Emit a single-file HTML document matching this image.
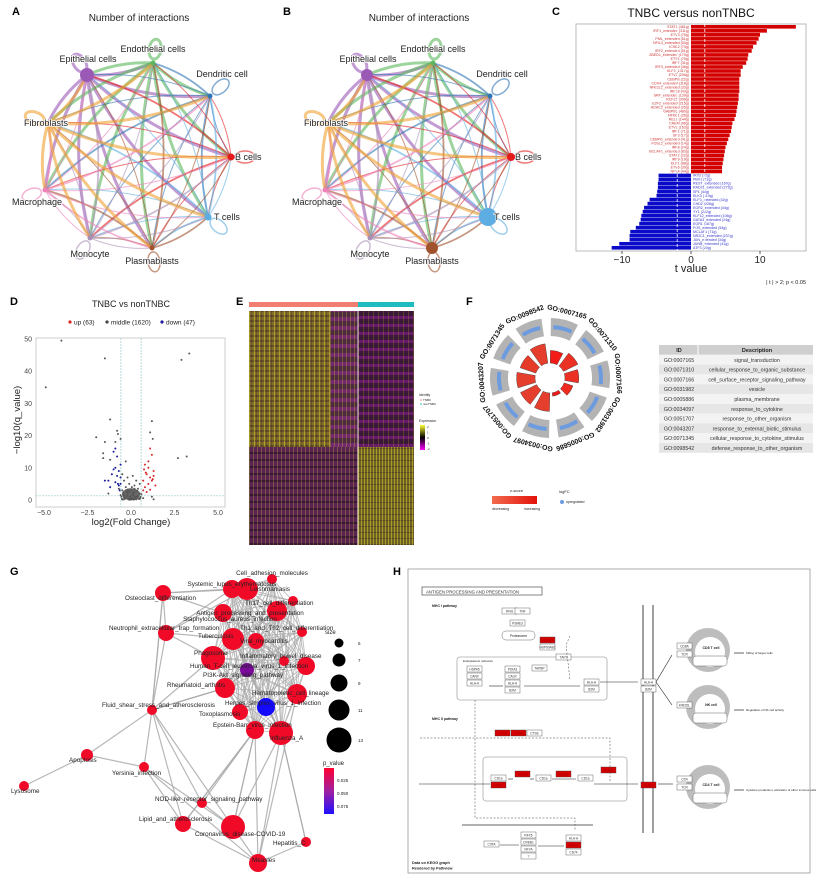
<!DOCTYPE html>
<html><head><meta charset="utf-8">
<style>
html,body{margin:0;padding:0;background:#fff;}
svg{display:block;font-family:"Liberation Sans",Arial,sans-serif;}
.hm{position:absolute;}
</style></head>
<body>
<div style="position:relative;width:824px;height:884px;overflow:hidden">
<div class="hm" style="left:249px;top:311px;width:81px;height:136px;background:repeating-linear-gradient(90deg,rgba(235,215,50,.45) 0 1px,transparent 1px 2px,rgba(60,30,40,.3) 2px 3px,transparent 3px 5px),repeating-linear-gradient(0deg,rgba(50,25,40,.35) 0 2px,transparent 2px 5px),#7f6d28"></div>
<div class="hm" style="left:330px;top:311px;width:28px;height:136px;background:repeating-linear-gradient(90deg,rgba(200,180,40,.35) 0 1px,transparent 1px 4px),repeating-linear-gradient(0deg,rgba(170,40,180,.4) 0 4px,transparent 4px 9px),#4e2a40"></div>
<div class="hm" style="left:358px;top:311px;width:56px;height:136px;background:repeating-linear-gradient(90deg,rgba(200,170,40,.25) 0 1px,transparent 1px 5px),repeating-linear-gradient(0deg,rgba(170,30,180,.4) 0 3px,transparent 3px 8px),#3a1838"></div>
<div class="hm" style="left:249px;top:447px;width:109px;height:98px;background:repeating-linear-gradient(90deg,rgba(210,190,40,.3) 0 1px,transparent 1px 4px),repeating-linear-gradient(0deg,rgba(20,10,20,.5) 0 2px,transparent 2px 7px),#5a2452"></div>
<div class="hm" style="left:358px;top:447px;width:56px;height:98px;background:repeating-linear-gradient(90deg,rgba(240,220,40,.45) 0 1px,transparent 1px 3px),repeating-linear-gradient(0deg,rgba(40,20,40,.4) 0 1px,transparent 1px 6px),#6e6224"></div>
<svg id="fig" width="824" height="884" viewBox="0 0 824 884" style="position:absolute;left:0;top:0"></svg>
</div>
<script>
// ---------- DATA ----------
const cellNames=["Epithelial cells","Endothelial cells","Dendritic cell","B cells","T cells","Plasmablasts","Monocyte","Macrophage","Fibroblasts"];
const cellColors=["#9b59b6","#5cb85c","#2e75b6","#e41a1c","#5dade2","#a0522d","#a98fb5","#f081b7","#f0a030"];
const nodeSizeA=[7,2.5,2.5,3.5,3.5,2.5,2.5,2.5,2.5];
const nodeSizeB=[6,2.5,2.5,4,9,6,2.5,2.5,2.5];
const cellRelX=[-52,14,71,92,69,13,-49,-94,-91];
const cellRelY=[-82,-94,-61,0,60,91,81,33,-34];
const cRedVals=[15.2,11,10,9.8,9.5,9,8.8,8.3,8.2,8,7.5,7.2,7.2,7,7,7,7,6.9,6.9,6.8,6.7,6.6,6.5,6.3,6,5.9,5.8,5.6,5.4,5.2,5,4.9,4.8,4.7,4.6,4.5,4.5];
const cBlueVals=[-4.7,-4.7,-4.8,-4.8,-4.9,-5,-6,-6.3,-6.8,-7,-7.2,-7.3,-7.5,-8,-8.8,-8.9,-8.9,-10.4,-11.5];
const cRedNames=["STAT1 (461g)","IRF1_extended (311g)","ETV3 (75g)","PML_extended (61g)","NFIL3_extended (53g)","ICSE2 (73g)","IRF2_extended (51g)","ZBED1_extended (170g)","ETS1 (75g)","IRF7 (31g)","IRF3_extended (46g)","KLF2 (1417g)","ETV2 (206g)","CEBPB (22g)","CDX4_extended (118g)","NFE2L2_extended (33g)","IRF18 (43g)","SRF_extended (139g)","RCF21 (308g)","E2F2_extended (215g)","HDAC2_extended (25g)","GABPB1 (480g)","NFKB1 (26g)","RELL (144g)","CREM (96g)","ETV2 (163g)","IRF1 (71g)","SP3 (17g)","CEBPG_extended (41g)","FOSL2_extended (14g)","IRF8 (24g)","BCLAF1_extended (83g)","STAT2 (22g)","IRF9 (19g)","ELF1 (88g)","ETV6 (30g)","NFYA (44g)"];
const cBlueNames=["IRX3 (72g)","PBX1 (21g)","REST_extended (167g)","RAD21_extended (272g)","SP1 (40g)","ELK3 (119g)","KLF3_extended (42g)","CHD2 (226g)","EGR2_extended (44g)","YY1 (222g)","KLF12_extended (106g)","GATA3_extended (24g)","EGR1 (167g)","FOS_extended (54g)","MCLAF1 (71g)","NR2C1_extended (237g)","JUN_extended (34g)","JUNB_extended (41g)","ATF3 (20g)"];
const cTicks=[-10,0,10];
const volX=[-4,-1.5,-4.9,2.9,3.35,-1.2,-2,-0.8,-0.75,-0.6,-1.5,-0.9,1.2,1.1,1.25,2.7,3.2,-1.6,-1.6,-1.2,-0.3,1.2,-0.5,-0.2,0.1,0.3,0.5,-0.4,0.2,-0.1,0.4,-0.3,0.0,0.2,-0.5,0.5,-0.2,0.1,-0.4,0.3,0.55,-0.55,0.0,-0.1,0.25,-0.35,0.45,-0.15,0.15,0.35,-0.45,0.05,-0.25,0.6,-0.6,0.2,-0.2,0.4,-0.4,0.1,-0.05,0.3,-0.3,0.5,-0.5,0.0,0.12,-0.12,0.22,-0.22,0.42,-0.42,0.52,-0.52,0.08,-0.08,1.3,-1.3,-0.7,0.7];
const volY=[49.5,44,35,43.5,45.5,25,19.5,21.5,20.5,19,18,18,24.5,21,19,13,13.5,14.5,13,12.5,12,1,8,7,7.5,6,5,6,4.5,5,3.5,4,3,2.5,3,2,2,1.5,1.5,1,1,1,0.5,0.5,0.3,0.4,0.5,0.2,0.1,2.8,2.2,4,2.5,1.8,1.5,3.5,3.2,1.2,0.8,2.2,1.1,0.2,0.6,0.3,0.2,0.1,1.7,2.6,0.9,1.3,0.4,0.2,0.6,0.3,0.4,0.1,0.2,2,3.5,0.6];
const volUpX=[1.1,1.2,1,0.8,1.3,0.9,1.1,0.7,1.2,1,0.8,1.4,0.7,0.9,1.1,1.3,0.75,1.0,1.25,0.85];
const volUpY=[16,14,12,11,9,8,7,6,6,5,4,4.5,3,2.5,3.2,7.5,9.5,10,6.5,8.5];
const volDownX=[-0.9,-1,-0.8,-0.6,-0.9,-0.7,-1.1,-0.6,-1.3,-0.9,-0.7,-1.5,-0.65,-0.8,-1.2,-0.75,-1.0,-0.6];
const volDownY=[16,15,13.5,11,10,9,8,7,6,5.5,4.5,6,3,7.5,4,5,9.5,5];
const volXTicks=[-5,-2.5,0,2.5,5];
const volYTicks=[0,10,20,30,40,50];
const goIds=["GO:0007165","GO:0071310","GO:0007166","GO:0031982","GO:0005886","GO:0034097","GO:0051707","GO:0043207","GO:0071345","GO:0098542"];
const goDesc=["signal_transduction","cellular_response_to_organic_substance","cell_surface_receptor_signaling_pathway","vesicle","plasma_membrane","response_to_cytokine","response_to_other_organism","response_to_external_biotic_stimulus","cellular_response_to_cytokine_stimulus","defense_response_to_other_organism"];
const goBar=[0.55,0.7,0.6,0.4,0.15,0.8,0.78,0.8,0.72,0.85];
const goZ=[0.9,0.6,0.6,0.7,0.9,0.4,0.4,0.4,0.45,0.4];
const gNames=["Cell_adhesion_molecules","Systemic_lupus_erythematosus","Leishmaniasis","Osteoclast_differentiation","Th17_cell_differentiation","Antigen_processing_and_presentation","Staphylococcus_aureus_infection","Neutrophil_extracellular_trap_formation","Th1_and_Th2_cell_differentiation","Tuberculosis","Viral_myocarditis","Phagosome","Inflammatory_bowel_disease","Human_T-cell_leukemia_virus_1_infection","PI3K-Akt_signaling_pathway","Rheumatoid_arthritis","Hematopoietic_cell_lineage","Fluid_shear_stress_and_atherosclerosis","Herpes_simplex_virus_1_infection","Toxoplasmosis","Epstein-Barr_virus_infection","Influenza_A","Apoptosis","Yersinia_infection","Lysosome","NOD-like_receptor_signaling_pathway","Lipid_and_atherosclerosis","Coronavirus_disease-COVID-19","Hepatitis_C","Measles"];
const gX=[272,232,247,163,293,277,223,166,302,233,256,213,284,306,247,225,297,152,266,240,255,281,87,144,24,202,183,233,306,258];
const gY=[579,589,589,593,601,611,613,633,632,639,641,658,661,666,670,688,694,710,707,712,730,733,755,767,786,803,824,827,842,863];
const gSize=[5,9,11,8,5,10,9,8,5,11,8,12,5,9,7,10,10,5,9,8,9,12,6,5,5,5,8,12,5,9];
const gP=[0.01,0.01,0.01,0.01,0.01,0.01,0.01,0.01,0.01,0.01,0.01,0.01,0.01,0.01,0.05,0.01,0.01,0.01,0.085,0.01,0.01,0.01,0.01,0.01,0.01,0.01,0.01,0.01,0.01,0.01];
const gEdgesFrom=[3,3,3,3,7,7,7,7,17,17,17,17,17,17,22,22,23,23,23,25,25,26,26,27,27,27,28,28,29,29,29,21,21,20,20,11,15,17,3,7];
const gEdgesTo=[1,6,7,17,1,9,11,17,23,22,26,15,25,27,24,23,26,27,29,20,27,20,29,20,21,29,21,29,21,20,16,18,28,26,27,17,17,3,2,2];
const gCluster=[0,1,2,4,5,6,8,9,10,11,12,13,14,15,16,18,19,20,21];
const sizeLegend=[5,7,9,11,13];
// ---------- HELPERS ----------
const NS="http://www.w3.org/2000/svg";
const svg=document.getElementById('fig');
function mk(tag,attrs,parent){const e=document.createElementNS(NS,tag);for(const k in attrs)e.setAttribute(k,attrs[k]);(parent||svg).appendChild(e);return e;}
function txt(s,x,y,size,attrs,parent){const t=mk('text',Object.assign({x:x,y:y,'font-size':size,fill:'#222'},attrs||{}),parent);t.textContent=s;return t;}
function grp(){return mk('g',{});}

[["A",12,15],["B",283,15],["C",552,15],["D",10,305],["E",236,305],["F",466,305],["G",10,575],["H",393,575]].forEach(p=>{
 const t=txt(p[0],p[1],p[2],11,{'font-weight':'bold',fill:'#000'});
 
 
});

// ---------- Panels A & B ----------
function cellchat(cx,sizes,letter){
 const g=grp();
 
 
 const cy=157;
 const pts=cellRelX.map((x,i)=>[cx+x,cy+cellRelY[i]]);
 const t=txt("Number of interactions",cx,21,10,{'text-anchor':'middle'},g);
 
 
 pts.forEach((p,i)=>{
  const a=Math.atan2(cellRelY[i],cellRelX[i]);const lx=p[0]+14*Math.cos(a),ly=p[1]+14*Math.sin(a);
  const c=mk('ellipse',{cx:lx,cy:ly,rx:10,ry:6,fill:'none',stroke:cellColors[i],'stroke-width':(i==1||i==8||i==0)?3:1.5,'stroke-opacity':0.6,transform:`rotate(${a*180/Math.PI} ${lx} ${ly})`},g);
  
  
 });
 for(let i=0;i<9;i++)for(let j=0;j<9;j++){if(i==j)continue;
  const w=(i==0||i==1||i==8)?3:((i+j)%3==0?1.8:1);
  const mx=(pts[i][0]+pts[j][0])/2,my=(pts[i][1]+pts[j][1])/2;
  const dx=pts[j][0]-pts[i][0],dy=pts[j][1]-pts[i][1];
  const qx=mx-dy*0.12,qy=my+dx*0.12;
  const e=mk('path',{d:`M${pts[i][0]},${pts[i][1]} Q${qx},${qy} ${pts[j][0]},${pts[j][1]}`,fill:'none',stroke:cellColors[i],'stroke-width':w,'stroke-opacity':0.6},g);
  
  
 }
 const anch=['middle','middle','middle','start','start','middle','middle','middle','middle'];
 const off=[[1,-13],[0,-11],[12,-19],[4,3],[6,3],[0,16],[0,19],[-8,15],[-2,3]];
 pts.forEach((p,i)=>{
  const c=mk('circle',{cx:p[0],cy:p[1],r:sizes[i],fill:cellColors[i]},g);
  
  
  const l=txt(cellNames[i],p[0]+off[i][0],p[1]+off[i][1],9,{'text-anchor':anch[i],stroke:'#fff','stroke-width':1.5,'paint-order':'stroke'},g);
  
  
 });
}
cellchat(139,nodeSizeA,'a');
cellchat(419,nodeSizeB,'b');

// ---------- Panel C ----------
(function(){
 const g=grp();
 
 
 const x0=576,x1=806,y0=24,y1=251;
 const xs=v=>691+v*6.9;
 const title=txt("TNBC  versus  nonTNBC",691,17,12,{'text-anchor':'middle',fill:'#111'},g);
 
 
 const fr=mk('rect',{x:x0,y:y0,width:x1-x0,height:y1-y0,fill:'#fff',stroke:'#aaa','stroke-width':0.8},g);
 
 
 const n=cRedVals.length+cBlueVals.length;const bh=(y1-y0-2)/n;
 cRedVals.forEach((v,i)=>{const y=y0+1+i*bh;
  const b=mk('rect',{x:xs(0),y:y,width:xs(v)-xs(0),height:bh-0.4,fill:'#d40000'},g);
  
  
  const l=txt(cRedNames[i],xs(0)-2,y+bh-1,3.6,{'text-anchor':'end',fill:'#c33'},g);
  
  
 });
 cBlueVals.forEach((v,i)=>{const y=y0+1+(i+cRedVals.length)*bh;
  const b=mk('rect',{x:xs(v),y:y,width:xs(0)-xs(v),height:bh-0.4,fill:'#0a0ac8'},g);
  
  
  const l=txt(cBlueNames[i],xs(0)+2,y+bh-1,3.6,{fill:'#33c'},g);
  
  
 });
 [-2,2].forEach(v=>{const l=mk('line',{x1:xs(v),x2:xs(v),y1:y0,y2:y1,stroke:'#fff','stroke-dasharray':'3,2','stroke-width':0.8},g);
  
  });
 cTicks.forEach(v=>{
  mk('line',{x1:xs(v),x2:xs(v),y1:y1,y2:y1+3,stroke:'#555'},g);
  const t=txt(String(v).replace('-','−'),xs(v),y1+12,10,{'text-anchor':'middle'},g);
  
  
 });
 const xt=txt("t value",691,272,11,{'text-anchor':'middle'},g);
 
 
 const cap=txt("| t | > 2; p < 0.05",806,284,5.5,{'text-anchor':'end'},g);
 
 
})();

// ---------- Panel D ----------
(function(){
 const g=grp();
 
 
 const xs=v=>131+v*17.4, ys=v=>500-v*3.22;
 const x0=36,x1=225,y0=338,y1=507;
 const t=txt("TNBC vs nonTNBC",131,307,9,{'text-anchor':'middle'},g);
 
 
 const leg=[["up (63)","#d62728",70],["middle (1620)","#444",107],["down (47)","#1a1a9a",162]];
 leg.forEach(l=>{
  const c=mk('circle',{cx:l[2],cy:322,r:1.6,fill:l[1]},g);
  
  
  const tt=txt(l[0],l[2]+4,324.5,6.5,{},g);
  
  
 });
 const fr=mk('rect',{x:x0,y:y0,width:x1-x0,height:y1-y0,fill:'#fff',stroke:'#ccc'},g);
 
 
 [-0.58,0.58].forEach(v=>{const l=mk('line',{x1:xs(v),x2:xs(v),y1:y0,y2:y1,stroke:'#9cc','stroke-dasharray':'2,1','stroke-width':0.7},g);
  });
 const hl=mk('line',{x1:x0,x2:x1,y1:ys(1.3),y2:ys(1.3),stroke:'#9cc','stroke-dasharray':'2,1','stroke-width':0.7},g);
 
 const blob=mk('ellipse',{cx:xs(0),cy:ys(1.8),rx:9,ry:6,fill:'#555',opacity:0.9},g);
 
 volX.forEach((v,i)=>{const c=mk('circle',{cx:xs(v),cy:ys(volY[i]),r:1,fill:'#555'},g);
  });
 volUpX.forEach((v,i)=>{const c=mk('circle',{cx:xs(v),cy:ys(volUpY[i]),r:1,fill:'#d62728'},g);
  });
 volDownX.forEach((v,i)=>{const c=mk('circle',{cx:xs(v),cy:ys(volDownY[i]),r:1,fill:'#1a1a9a'},g);
  });
 volXTicks.forEach(v=>{const t=txt(v.toFixed(1).replace('-','−'),xs(v),515,7,{'text-anchor':'middle',fill:'#444'},g);
  });
 volYTicks.forEach(v=>{const t=txt(String(v),32,ys(v)+2.5,7,{'text-anchor':'end',fill:'#444'},g);
  });
 const xt=txt("log2(Fold Change)",131,525,9.5,{'text-anchor':'middle'},g);
 
 const yt=txt("−log10(q_value)",20,420,9.5,{'text-anchor':'middle',transform:'rotate(-90 20 420)'},g);
 
})();

// ---------- Panel E annotations ----------
(function(){
 const g=grp();
 
 
 const a=mk('rect',{x:249,y:302,width:109,height:5,fill:'#f07f72'},g);
 
 const b=mk('rect',{x:358,y:302,width:56,height:5,fill:'#1cbcc0'},g);
 
 const s=mk('line',{x1:358,x2:358,y1:311,y2:545,stroke:'#fff','stroke-width':0.8},g);
 
 txt("Identity",419,396,3.5,{},g);
 mk('circle',{cx:421,cy:400,r:0.8,fill:'#f07f72'},g);txt("TNBC",423,401,3,{},g);
 mk('circle',{cx:421,cy:404,r:0.8,fill:'#1cbcc0'},g);txt("nonTNBC",423,405,3,{},g);
 txt("Expression",419,422,3.5,{},g);
 const d=mk('defs',{},g);const lg=mk('linearGradient',{id:'exg',x1:0,y1:0,x2:0,y2:1},d);
 [['0','#ffff33'],['0.5','#000'],['1','#ff00ff']].forEach(s=>mk('stop',{offset:s[0],'stop-color':s[1]},lg));
 const cb=mk('rect',{x:420,y:425,width:5,height:25,fill:'url(#exg)'},g);
 
 ['2','1','0','-1','-2'].forEach((s,i)=>txt(s,427,428+i*5.5,3,{},g));
})();

// ---------- Panel F ----------
(function(){
 const g=grp();
 
 
 const cx=550,cy=378;
 function arc(r0,r1,a0,a1){const p=(r,a)=>[cx+r*Math.sin(a),cy-r*Math.cos(a)];
  const A=p(r1,a0),B=p(r1,a1),C=p(r0,a1),D=p(r0,a0);
  return `M${A} A${r1},${r1} 0 0 1 ${B} L${C} A${r0},${r0} 0 0 0 ${D}Z`;}
 const n=goIds.length,step=2*Math.PI/n,gap=0.08;
 goIds.forEach((id,i)=>{
  const a0=i*step-step/2+gap+0.25, a1=a0+step-2*gap;
  const o=mk('path',{d:arc(42,60,a0,a1),fill:'#b3b3b3'},g);
  
  const bl=mk('path',{d:arc(49,53,a0+0.05,a1-0.05),fill:'#6d9be0'},g);
  
  const col=`rgb(${Math.round(230+25*goZ[i]-10)},${Math.round(90-70*goZ[i])},${Math.round(60-40*goZ[i])})`;
  const rr=mk('path',{d:arc(15,15+23*goBar[i],a0,a1),fill:col,stroke:'#333','stroke-width':0.4},g);
  
  const am=(a0+a1)/2, lr=68;
  const lx=cx+lr*Math.sin(am), ly=cy-lr*Math.cos(am);
  let deg=am*180/Math.PI;
  const t=txt(id,lx,ly,7,{'text-anchor':'middle','font-weight':'bold','dominant-baseline':'middle',transform:`rotate(${deg} ${lx} ${ly})`,fill:'#111'},g);
  
 });
 txt("z-score",510,492,4,{},g);
 const d=mk('defs',{},g);const lg=mk('linearGradient',{id:'zg'},d);
 mk('stop',{offset:0,'stop-color':'#f26b4d'},lg);mk('stop',{offset:1,'stop-color':'#e3120b'},lg);
 const zb=mk('rect',{x:492,y:496,width:45,height:8,fill:'url(#zg)'},g);
 
 txt("decreasing",492,510,3.5,{},g);txt("increasing",524,510,3.5,{},g);
 txt("logFC",559,493,4,{},g);
 mk('circle',{cx:562,cy:502,r:2,fill:'#6d9be0'},g);
 txt("upregulated",566,503,3.5,{},g);
 const tx=659,tw=154,rh=9.8,ty=345;
 const hd=mk('rect',{x:tx,y:ty,width:tw,height:rh,fill:'#cfcfcf'},g);
 
 txt("ID",tx+20,ty+7,5.5,{'text-anchor':'middle','font-weight':'bold'},g);
 txt("Description",tx+98,ty+7,5.5,{'text-anchor':'middle','font-weight':'bold'},g);
 mk('line',{x1:tx+39,x2:tx+39,y1:ty,y2:ty+rh,stroke:'#fff'},g);
 goIds.forEach((id,i)=>{const y=ty+rh*(i+1);
  const r=mk('rect',{x:tx,y:y,width:tw,height:rh,fill:i%2?'#e6e6e6':'#f3f3f3'},g);
  
  const a=txt(id,tx+20,y+7,5.3,{'text-anchor':'middle',fill:'#333'},g);
  
  const b=txt(goDesc[i],tx+98,y+7,5.3,{'text-anchor':'middle',fill:'#333'},g);
  
 });
})();

// ---------- Panel G ----------
(function(){
 const g=grp();
 
 
 const eg=mk('g',{stroke:'#aaa','stroke-width':0.8,'stroke-opacity':0.85},g);
 for(let a=0;a<gCluster.length;a++)for(let b=a+1;b<gCluster.length;b++){
  const i=gCluster[a],j=gCluster[b];
  const e=mk('line',{x1:gX[i],y1:gY[i],x2:gX[j],y2:gY[j]},eg);
  
 }
 gEdgesFrom.forEach((f,k)=>{const t=gEdgesTo[k];
  const e=mk('line',{x1:gX[f],y1:gY[f],x2:gX[t],y2:gY[t],'stroke-width':1.2},eg);
  
 });
 const pc=p=>{const t=Math.min(1,Math.max(0,(p-0.01)/0.075));return `rgb(${Math.round(240-220*t)},10,${Math.round(40+215*t)})`;};
 gNames.forEach((nm,i)=>{
  const c=mk('circle',{cx:gX[i],cy:gY[i],r:gSize[i],fill:pc(gP[i])},g);
  
 });
 const lab=[[0,272,575,'middle'],[1,232,586,'middle'],[2,250,591,'start'],[3,125,600,'start'],[4,245,605,'start'],[5,250,615,'middle'],[6,230,621,'middle'],[7,109,630,'start'],[8,240,630,'start'],[9,198,638,'start'],[10,240,643,'start'],[11,194,655,'start'],[12,240,658,'start'],[13,190,668,'start'],[14,203,677,'start'],[15,167,687,'start'],[16,252,695,'start'],[17,102,707,'start'],[18,225,705,'start'],[19,199,716,'start'],[20,213,727,'start'],[21,270,740,'start'],[22,69,762,'start'],[23,112,775,'start'],[24,11,793,'start'],[25,155,801,'start'],[26,139,821,'start'],[27,195,836,'start'],[28,273,845,'start'],[29,252,862,'start']];
 lab.forEach(l=>{const t=txt(gNames[l[0]],l[1],l[2],6.3,{'text-anchor':l[3],fill:'#222'},g);
  });
 txt("size",325,634,6,{},g);
 const sy=[643,660,683,710,740];
 sizeLegend.forEach((s,i)=>{const c=mk('circle',{cx:339,cy:sy[i],r:s-0.5,fill:'#000'},g);
  
  txt(String(s),358,sy[i]+2,4.5,{},g);});
 txt("p_value",323,765,6,{},g);
 const d=mk('defs',{},g);const lg=mk('linearGradient',{id:'pg',x1:0,y1:0,x2:0,y2:1},d);
 mk('stop',{offset:0,'stop-color':'#ff0030'},lg);mk('stop',{offset:0.5,'stop-color':'#a020a0'},lg);mk('stop',{offset:1,'stop-color':'#2010ff'},lg);
 const pb=mk('rect',{x:324,y:768,width:10,height:46,fill:'url(#pg)'},g);
 
 [['0.025',782],['0.050',795],['0.075',808]].forEach(s=>txt(s[0],337,s[1],4.5,{},g));
})();

// ---------- Panel H ----------
(function(){
 const g=grp();
 
 
 const fr=mk('rect',{x:408,y:569,width:402,height:304,fill:'#fff',stroke:'#999','stroke-width':0.8},g);
 
 const tb=mk('rect',{x:422,y:587,width:120,height:8,fill:'#fff',stroke:'#333','stroke-width':0.6},g);
 
 txt("ANTIGEN PROCESSING AND PRESENTATION",426,593.5,4.3,{fill:'#333'},g);
 txt("MHC I pathway",432,607,3.5,{'font-weight':'bold'},g);
 txt("MHC II pathway",432,720,3.5,{'font-weight':'bold'},g);
 [[457,657,150,43,'ER'],[483,757,144,44,'MHC-I-CD1']].forEach(b=>{
  const r=mk('rect',{x:b[0],y:b[1],width:b[2],height:b[3],rx:3,fill:'none',stroke:'#aaa','stroke-width':0.8},g);
  });
 txt("Endoplasmic reticulum",463,662,3,{},g);
 [643,653].forEach(x=>{const l=mk('line',{x1:x,x2:x,y1:605,y2:833,stroke:'#888','stroke-width':1.6},g);
  });
 const nl=mk('line',{x1:462,x2:593,y1:825,y2:825,stroke:'#999','stroke-width':1.5},g);
 
 [[708,650,'CD8 T cell','Killing of target cells'],[708,707,'NK cell','Regulation of NK cell activity'],[708,787,'CD4 T cell','Cytokine production, activation of other immune cells']].forEach(c=>{
  const ci=mk('circle',{cx:c[0],cy:c[1],r:22,fill:'#bdbdbd'},g);
  
  mk('circle',{cx:c[0]+2,cy:c[1]+2,r:15,fill:'#fff'},g);
  txt(c[2],c[0]+3,c[1]-1,3.5,{'text-anchor':'middle','font-weight':'bold'},g);
  mk('rect',{x:c[0]-15,y:c[1]+6,width:34,height:10,rx:3,fill:'#fff',stroke:'#666','stroke-width':0.5},g);
  mk('line',{x1:c[0]+26,x2:c[0]+36,y1:c[1]+3,y2:c[1]+3,stroke:'#000','stroke-width':0.6},g);
  txt(c[3],c[0]+38,c[1]+4,3,{},g);
 });
 const boxes=[[502,608,'IFNG',0],[515,608,'TNF',0],[510,620,'PSME3',0],[540,637,'HSPA1A',1],[540,644,'HSP90AB1',0],[556,654,'TAP1',0],[532,665,'TAPBP',0],[467,666,'HSPA5',0],[467,673,'CANX',0],[467,680,'HLA-A',0],[505,666,'PDIA3',0],[505,673,'CALR',0],[505,680,'HLA-A',0],[505,687,'B2M',0],[584,679,'HLA-A',0],[584,686,'B2M',0],[641,679,'HLA-A',0],[641,686,'B2M',0],[677,643,'CD8A',0],[677,651,'TCR',0],[677,702,'KIR2DL',0],[495,730,'CTSS',1],[511,730,'CTSB',1],[527,730,'CTSE',0],[491,775,'CD1a',0],[491,782,'CD74',1],[515,771,'HLA-D',1],[536,775,'CD1a',0],[556,771,'HLA-D',1],[578,775,'CD1a',0],[601,767,'HLA-D',1],[641,782,'HLA-D',1],[677,776,'CD4',0],[677,784,'TCR',0],[484,841,'CIITA',0],[521,832,'RFX5',0],[521,839,'CREB1',0],[521,846,'NFYA',0],[521,853,'?',0],[566,835,'HLA-A',0],[566,842,'HLA-D',1],[566,849,'CD74',0]];
 boxes.forEach(b=>{
  const r=mk('rect',{x:b[0],y:b[1],width:15,height:6,fill:b[3]?'#d90000':'#fff',stroke:'#444','stroke-width':0.4},g);
  
  txt(b[2],b[0]+7.5,b[1]+4.6,3.2,{'text-anchor':'middle',fill:b[3]?'#900':'#333'},g);
 });
 const pr=mk('rect',{x:502,y:631,width:33,height:9,rx:4,fill:'#fff',stroke:'#444','stroke-width':0.4},g);
 
 txt("Proteasome",518.5,637,3.2,{'text-anchor':'middle'},g);
 [[489,686,503,686],[524,686,580,686],[600,682,638,682],[656,682,672,655],[656,682,672,705],[419,784,490,784],[508,779,513,779],[530,779,534,779],[552,779,576,779],[594,784,638,784],[658,784,673,784],[500,845,519,845],[538,846,564,846]].forEach(a=>{
  const l=mk('line',{x1:a[0],y1:a[1],x2:a[2],y2:a[3],stroke:'#222','stroke-width':0.6},g);
  });
 [[475,700,475,818,575,818,575,830],[420,738,610,738,610,782],[570,636,566,645,570,680]].forEach(p=>{
  mk('polyline',{points:p.join(','),fill:'none',stroke:'#444','stroke-width':0.5,'stroke-dasharray':'2,1.5'},g);});
 txt("Data on KEGG graph",412,864,3.8,{'font-weight':'bold'},g);
 txt("Rendered by Pathview",412,869.5,3.8,{'font-weight':'bold'},g);
})();
</script>
</body></html>
